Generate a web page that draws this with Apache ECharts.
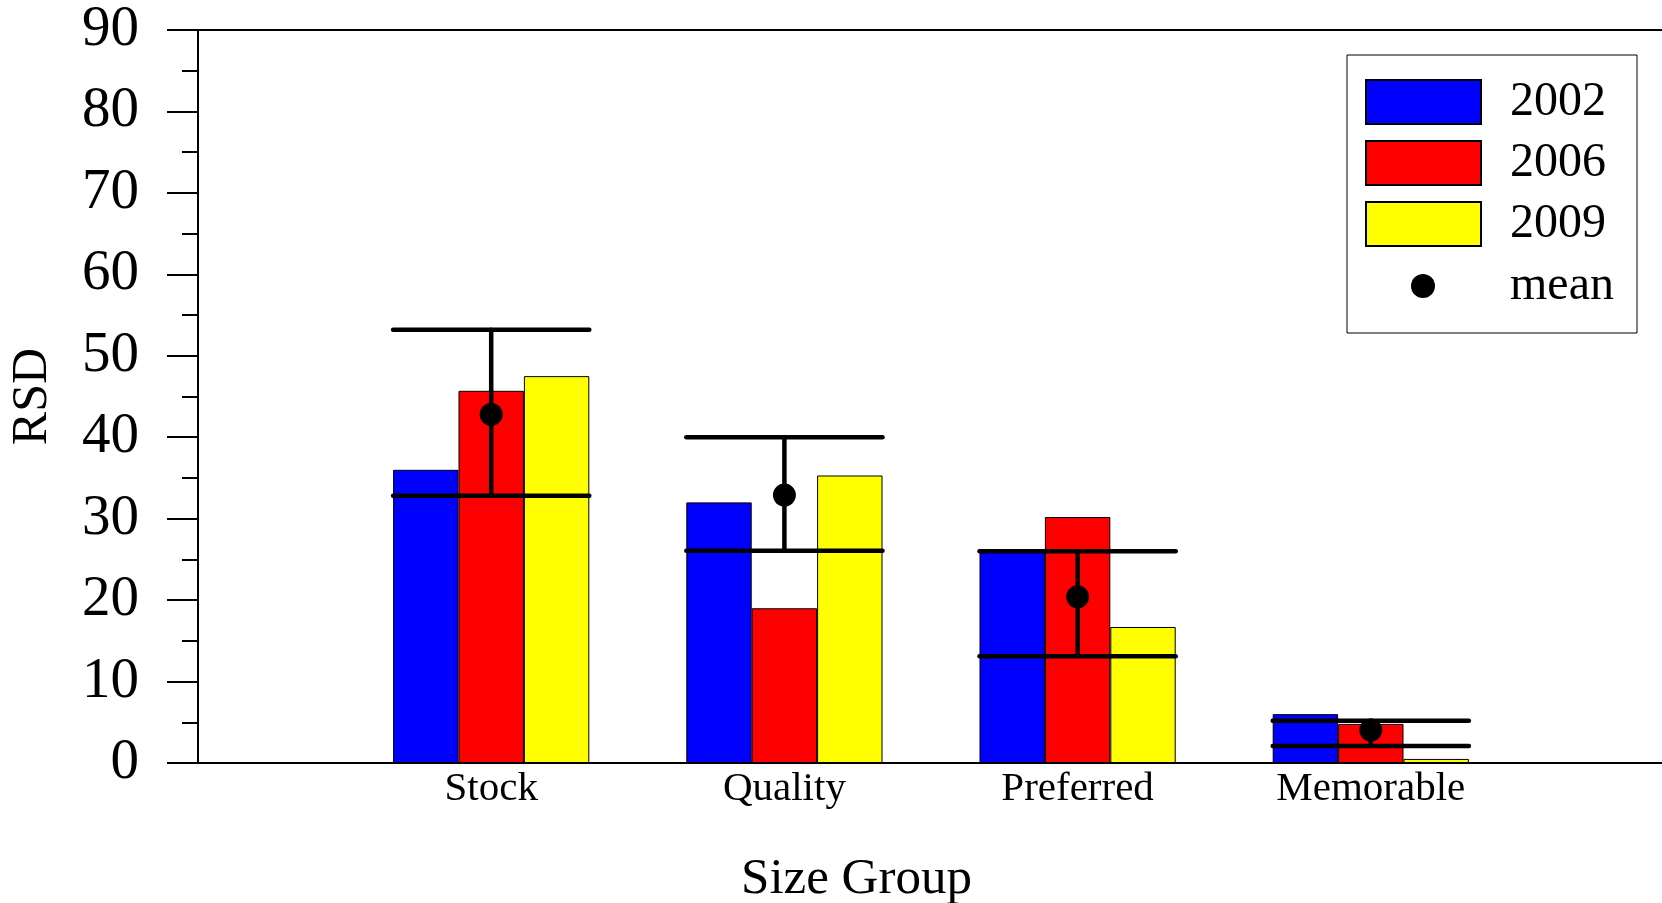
<!DOCTYPE html>
<html>
<head>
<meta charset="utf-8">
<script src="https://cdn.jsdelivr.net/npm/echarts@6/dist/echarts.min.js"></script>
<style>
html,body{margin:0;padding:0;background:#fff;}
#chart{width:1662px;height:903px;}
</style>
</head>
<body>
<div id="chart"></div>
<script>
// ---- data ----
var categories = ['Stock', 'Quality', 'Preferred', 'Memorable'];
var rsd2002 = [36.0, 32.0, 26.0, 6.0];
var rsd2006 = [45.7, 19.0, 30.2, 4.8];
var rsd2009 = [47.5, 35.3, 16.7, 0.5];
var meanVals = [42.8, 32.9, 20.4, 4.05];
var errHigh = [53.2, 40.0, 26.0, 5.2];
var errLow  = [32.8, 26.05, 13.1, 2.1];
var yTicks = [0, 10, 20, 30, 40, 50, 60, 70, 80, 90];

// ---- styles ----
var FONT = 'Liberation Serif';
var BAR_W = 65.4;

// axis slots: an empty slot on each side of the four size groups
var axisCats = [''].concat(categories).concat(['']);
function pairs(ys) { return categories.map(function (c, i) { return [c, ys[i]]; }); }

var chart = echarts.init(document.getElementById('chart'), null, {renderer: 'canvas'});

var option = {
  backgroundColor: '#ffffff',
  animation: false,
  grid: {left: 198, top: 30, width: 1466, height: 733, containLabel: false, outerBoundsMode: 'none'},
  legend: [{
    data: [{name: '2002', icon: 'rect'}, {name: '2006', icon: 'rect'}, {name: '2009', icon: 'rect'}],
    orient: 'vertical',
    left: 1347, top: 55,
    padding: [23, 31, 85, 18],
    itemWidth: 115, itemHeight: 44, itemGap: 13,
    borderColor: '#000', borderWidth: 1,
    selectedMode: false,
    textStyle: {fontFamily: FONT, fontSize: 48, color: '#000', padding: [0, 0, 0, 24]}
  }, {
    data: [{name: 'mean', icon: 'circle'}],
    orient: 'vertical',
    left: 1411, top: 262,
    padding: 0,
    itemWidth: 24, itemHeight: 24,
    selectedMode: false,
    textStyle: {fontFamily: FONT, fontSize: 48, color: '#000', padding: [0, 0, 0, 70]}
  }],
  xAxis: [{
    type: 'category', data: axisCats, boundaryGap: false,
    position: 'bottom',
    name: 'Size Group', nameLocation: 'middle', nameGap: 91,
    nameTextStyle: {fontFamily: FONT, fontSize: 51, color: '#000', padding: [0, 149, 0, 0]},
    axisLine: {show: true, lineStyle: {color: '#000', width: 2}},
    axisTick: {show: false},
    splitLine: {show: false},
    axisLabel: {fontFamily: FONT, fontSize: 41, color: '#000', margin: 6, interval: 0}
  }, {
    type: 'category', data: axisCats, boundaryGap: false, position: 'top',
    axisLine: {show: true, onZero: false, lineStyle: {color: '#000', width: 2}},
    axisTick: {show: false}, axisLabel: {show: false}, splitLine: {show: false}
  }],
  yAxis: {
    type: 'value', min: yTicks[0], max: yTicks[yTicks.length - 1], interval: 10,
    name: 'RSD', nameLocation: 'middle', nameGap: 140, nameRotate: 90,
    nameTextStyle: {fontFamily: FONT, fontSize: 50, color: '#000'},
    axisLine: {show: true, lineStyle: {color: '#000', width: 2}},
    axisTick: {show: true, length: 31, lineStyle: {color: '#000', width: 2}},
    minorTick: {show: true, splitNumber: 2, length: 16, lineStyle: {color: '#000', width: 2}},
    splitLine: {show: false},
    minorSplitLine: {show: false},
    axisLabel: {fontFamily: FONT, fontSize: 57, color: '#000', margin: 59}
  },
  series: [
    {name: '2002', type: 'bar', barWidth: BAR_W, barGap: '0%', data: pairs(rsd2002),
     itemStyle: {color: '#0000ff', borderColor: '#000', borderWidth: 1}},
    {name: '2006', type: 'bar', barWidth: BAR_W, barGap: '0%', data: pairs(rsd2006),
     itemStyle: {color: '#ff0000', borderColor: '#000', borderWidth: 1}},
    {name: '2009', type: 'bar', barWidth: BAR_W, barGap: '0%', data: pairs(rsd2009),
     itemStyle: {color: '#ffff00', borderColor: '#000', borderWidth: 1}},
    {name: 'range', type: 'custom', z: 5,
     data: categories.map(function (c, i) { return [c, errLow[i], errHigh[i]]; }),
     renderItem: function (params, api) {
       var x = api.value(0);
       var pl = api.coord([x, api.value(1)]);
       var ph = api.coord([x, api.value(2)]);
       var half = BAR_W * 1.5;
       var st = {stroke: '#000', lineWidth: 4.5, lineCap: 'round'};
       return {type: 'group', children: [
         {type: 'line', shape: {x1: pl[0], y1: pl[1], x2: ph[0], y2: ph[1]}, style: st},
         {type: 'line', shape: {x1: ph[0] - half, y1: ph[1], x2: ph[0] + half, y2: ph[1]}, style: st},
         {type: 'line', shape: {x1: pl[0] - half, y1: pl[1], x2: pl[0] + half, y2: pl[1]}, style: st}
       ]};
     }},
    {name: 'mean', type: 'scatter', z: 6, symbol: 'circle', symbolSize: 23,
     data: pairs(meanVals), itemStyle: {color: '#000', opacity: 1}}
  ]
};
chart.setOption(option);
</script>
</body>
</html>
